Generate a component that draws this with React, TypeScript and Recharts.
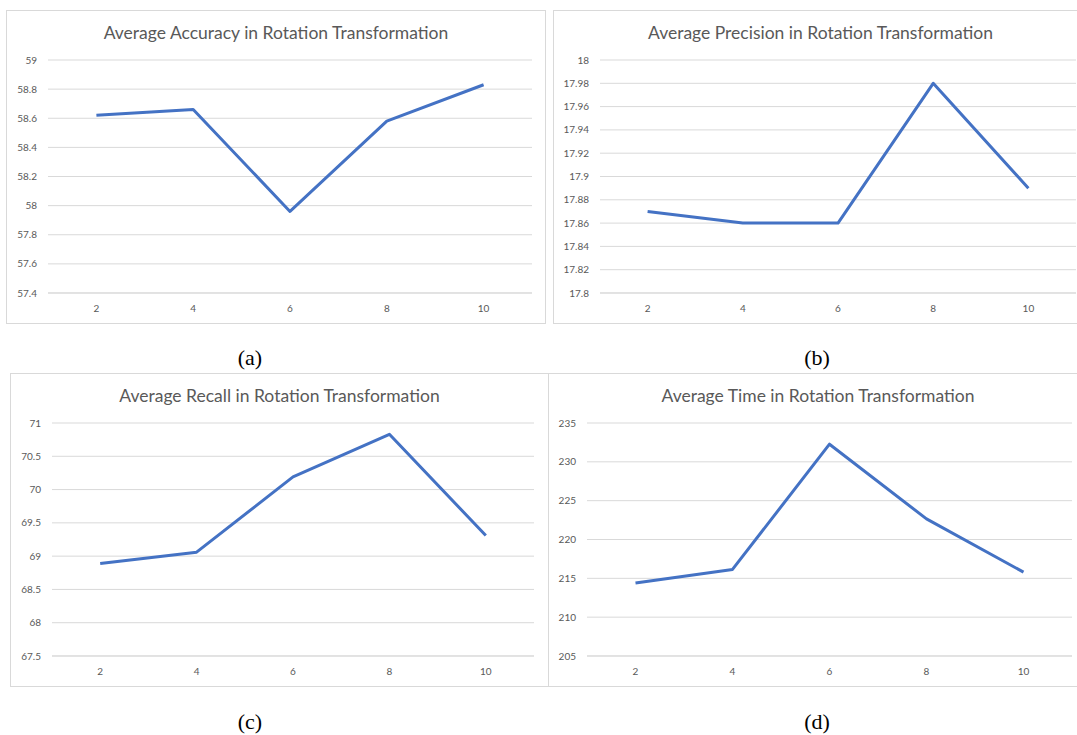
import { LineChart, Line, XAxis, YAxis, CartesianGrid } from 'recharts'

const categories = ['2', '4', '6', '8', '10']

const accuracy = [58.62, 58.66, 57.96, 58.58, 58.83]
const precision = [17.87, 17.86, 17.86, 17.98, 17.89]
const recall = [68.89, 69.06, 70.19, 70.83, 69.31]
const time = [214.4, 216.15, 232.27, 222.65, 215.8]

const accuracyTicks = [57.4, 57.6, 57.8, 58, 58.2, 58.4, 58.6, 58.8, 59]
const precisionTicks = [17.8, 17.82, 17.84, 17.86, 17.88, 17.9, 17.92, 17.94, 17.96, 17.98, 18]
const recallTicks = [67.5, 68, 68.5, 69, 69.5, 70, 70.5, 71]
const timeTicks = [205, 210, 215, 220, 225, 230, 235]

const toRows = (values: number[]) => categories.map((c, i) => ({ name: c, value: values[i] }))

const GREY = '#595959'
const GRID = '#d9d9d9'

type PanelProps = {
    left: number
    top: number
    width: number
    height: number
    title: string
    values: number[]
    ticks: number[]
    yWidth: number
    right: number
}

function Panel({ left, top, width, height, title, values, ticks, yWidth, right }: PanelProps) {
    // Excel-style category axis: each point sits in the middle of its band
    const pad = (width - yWidth - right) / (categories.length * 2)
    return (
        <div style={{ position: 'absolute', left, top, width, height }}>
            <div style={{ position: 'absolute', inset: 0, border: `1px solid ${GRID}`, pointerEvents: 'none' }} />
            <div style={{
                position: 'absolute', left: 0, width, top: 13, textAlign: 'center',
                fontFamily: 'Lato, sans-serif', fontSize: 17.5, color: GREY, lineHeight: '20px'
            }}>{title}</div>
            <LineChart width={width} height={height} data={toRows(values)}
                margin={{ top: 50, right, bottom: 0, left: 0 }}>
                <CartesianGrid vertical={false} stroke={GRID} />
                <XAxis dataKey="name" height={31} tickLine={false} stroke={GRID} padding={{ left: pad, right: pad }}
                    tick={{ fill: GREY, fontSize: 10, fontFamily: 'Lato, sans-serif' }} tickMargin={6} />
                <YAxis width={yWidth} domain={[ticks[0], ticks[ticks.length - 1]]} ticks={ticks}
                    interval={0} axisLine={false} tickLine={false} tickMargin={5}
                    tickFormatter={(v: number) => String(v)}
                    tick={{ fill: GREY, fontSize: 10, fontFamily: 'Lato, sans-serif' }} />
                <Line dataKey="value" stroke="#4472C4" strokeWidth={3} dot={false}
                    isAnimationActive={false} strokeLinejoin="round" />
            </LineChart>
        </div>
    )
}

const captionStyle = (cx: number, cy: number): React.CSSProperties => ({
    position: 'absolute', left: cx - 30, width: 60, top: cy - 12, textAlign: 'center',
    fontFamily: '"Liberation Serif", serif', fontSize: 22, lineHeight: '24px', color: '#000'
})

export default function App() {
    return (
        <div style={{ position: 'absolute', left: 0, top: 0, width: 1077, height: 735, overflow: 'hidden', background: '#fff' }}>
            <Panel left={6} top={10} width={540} height={314} title="Average Accuracy in Rotation Transformation"
                values={accuracy} ticks={accuracyTicks} yWidth={42} right={14} />
            <Panel left={553} top={10} width={535} height={314} title="Average Precision in Rotation Transformation"
                values={precision} ticks={precisionTicks} yWidth={47} right={12} />
            <Panel left={10} top={373} width={539} height={314} title="Average Recall in Rotation Transformation"
                values={recall} ticks={recallTicks} yWidth={42} right={15} />
            <Panel left={548} top={373} width={540} height={314} title="Average Time in Rotation Transformation"
                values={time} ticks={timeTicks} yWidth={39} right={16} />
            <div style={captionStyle(250, 358)}>(a)</div>
            <div style={captionStyle(817, 358)}>(b)</div>
            <div style={captionStyle(250, 722)}>(c)</div>
            <div style={captionStyle(817, 722)}>(d)</div>
        </div>
    )
}
